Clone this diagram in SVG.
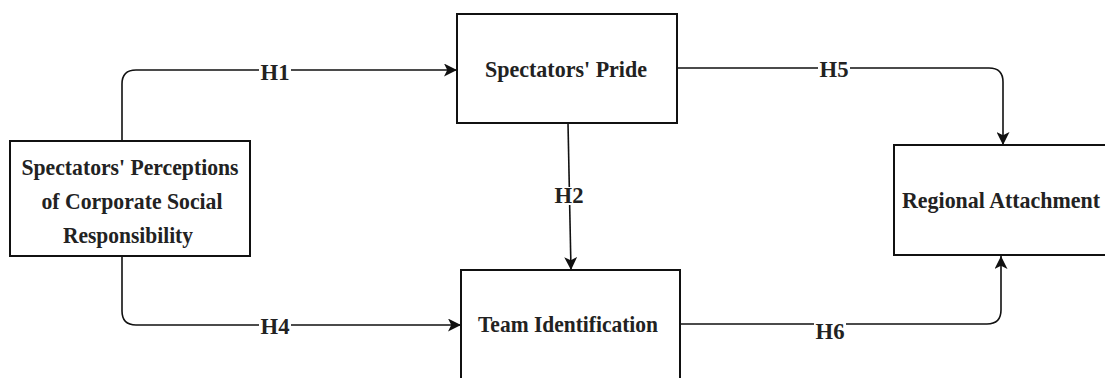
<svg xmlns="http://www.w3.org/2000/svg" width="1105" height="378" viewBox="0 0 1105 378">
  <style>
    .box { fill: #ffffff; stroke: #111111; stroke-width: 2; }
    .lbl { font-family: "Liberation Serif", "Times New Roman", serif; font-weight: bold; font-size: 22.5px; fill: #222222; text-anchor: middle; }
    .edge { fill: none; stroke: #111111; stroke-width: 1.6; }
    .tag { fill: #ffffff; }
  </style>
  <defs>
    <marker id="arrow" viewBox="0 0 12 12" markerWidth="13" markerHeight="13" refX="12" refY="6" orient="auto" markerUnits="userSpaceOnUse">
      <path d="M0,0 L12,6 L0,12 L3,6 z" fill="#111111"/>
    </marker>
  </defs>
  <rect width="1105" height="378" fill="#ffffff"/>

  <g id="connectors">
    <path class="edge" d="M122,141 V84 Q122,70 136,70 H457" marker-end="url(#arrow)"/>
    <path class="edge" d="M122,256 V311 Q122,325 136,325 H461" marker-end="url(#arrow)"/>
    <path class="edge" d="M568,123 L571,270" marker-end="url(#arrow)"/>
    <path class="edge" d="M677,68 H989 Q1003,68 1003,82 V145" marker-end="url(#arrow)"/>
    <path class="edge" d="M681,324 H987 Q1001,324 1001,310 V256" marker-end="url(#arrow)"/>
    <g id="edge-labels">
      <rect class="tag" x="259" y="62" width="32" height="18"/>
      <text class="lbl" x="275" y="80" textLength="29" lengthAdjust="spacingAndGlyphs">H1</text>
      <rect class="tag" x="259" y="317" width="32" height="18"/>
      <text class="lbl" x="275" y="334" textLength="29" lengthAdjust="spacingAndGlyphs">H4</text>
      <rect class="tag" x="553" y="187" width="32" height="18"/>
      <text class="lbl" x="569" y="203" textLength="29" lengthAdjust="spacingAndGlyphs">H2</text>
      <rect class="tag" x="818" y="61" width="32" height="18"/>
      <text class="lbl" x="834" y="77" textLength="29" lengthAdjust="spacingAndGlyphs">H5</text>
      <rect class="tag" x="814" y="322" width="32" height="18"/>
      <text class="lbl" x="830" y="339" textLength="29" lengthAdjust="spacingAndGlyphs">H6</text>
    </g>
  </g>

  <g id="node-csr">
    <rect class="box" x="10" y="141" width="240" height="115"/>
    <text class="lbl" x="130" y="175" textLength="217" lengthAdjust="spacingAndGlyphs">Spectators' Perceptions</text>
    <text class="lbl" x="132" y="209" textLength="181" lengthAdjust="spacingAndGlyphs">of Corporate Social</text>
    <text class="lbl" x="128" y="243" textLength="130" lengthAdjust="spacingAndGlyphs">Responsibility</text>
  </g>

  <g id="node-pride">
    <rect class="box" x="457" y="14" width="220" height="109"/>
    <text class="lbl" x="566" y="77" textLength="162" lengthAdjust="spacingAndGlyphs">Spectators' Pride</text>
  </g>

  <g id="node-team">
    <rect class="box" x="461" y="270" width="219" height="120"/>
    <text class="lbl" x="568" y="332" textLength="180" lengthAdjust="spacingAndGlyphs">Team Identification</text>
  </g>

  <g id="node-regional">
    <rect class="box" x="894" y="145" width="222" height="110"/>
    <text class="lbl" x="1001" y="208" textLength="198" lengthAdjust="spacingAndGlyphs">Regional Attachment</text>
  </g>
</svg>
